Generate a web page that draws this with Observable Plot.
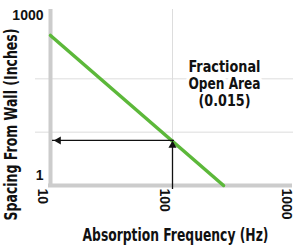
<!DOCTYPE html>
<html><head><meta charset="utf-8">
<script src="https://cdn.jsdelivr.net/npm/d3@7"></script>
<script src="https://cdn.jsdelivr.net/npm/@observablehq/plot@0.6"></script>
<style>body{margin:0;background:#fff;}</style>
</head><body><div id="chart"></div>
<script>
// Data
const freq = [10, 262];          // Absorption frequency (Hz)
const spacing = [650, 1];        // Spacing from wall (inches)
const xTicks = [10, 100, 1000];
const yTicks = [1, 1000];
const yGrid = [10, 100];
const xGrid = [100];
const markFreq = [100];
const markSpacing = [7];
const noteLines = ["Fractional", "Open Area", "(0.015)"];
const xTitle = "Absorption Frequency (Hz)";
const yTitle = "Spacing From Wall (Inches)";

const line = freq.map((f, i) => ({f, s: spacing[i]}));
const narrow = "'Liberation Sans Narrow', 'DejaVu Sans Condensed', 'Liberation Sans', sans-serif";
const wide = "'Liberation Sans', Arial, sans-serif";
const noteStyle = {frameAnchor: "top-right", textAnchor: "middle", lineAnchor: "middle", fontSize: 16,
  fontWeight: "bold", fontFamily: narrow, dx: -69};
const noteDy = [57, 74, 91];
const halo = noteLines.map((t, i) => Plot.text([t], {text: d => d, ...noteStyle, dy: noteDy[i], fill: "#fff", stroke: "#fff", strokeWidth: 8}));
const note = noteLines.map((t, i) => Plot.text([t], {text: d => d, ...noteStyle, dy: noteDy[i], fill: "#111"}));

const chart = Plot.plot({
  width: 295, height: 246,
  marginLeft: 35, marginRight: 2, marginTop: 9, marginBottom: 61,
  style: {background: "#fff"},
  x: {type: "log", domain: [10, 1000], range: [50, 294], axis: null},
  y: {type: "log", domain: [1, 1000], range: [185, 25], axis: null},
  marks: [
    Plot.ruleY(yGrid, {stroke: "#ddd", strokeWidth: 1}),
    Plot.ruleX(xGrid, {stroke: "#ddd", strokeWidth: 1}),
    ...halo,
    ...note,
    Plot.ruleX([xTicks[0]], {stroke: "#ccc", strokeWidth: 4}),
    Plot.ruleY([yTicks[0]], {x1: xTicks[0], x2: xTicks[2], stroke: "#ccc", strokeWidth: 4, dx: -2}),
    Plot.line(line, {x: "f", y: "s", stroke: "#5cb83a", strokeWidth: 3.5}),
    Plot.ruleX(markFreq, {y1: yTicks[0], y2: markSpacing[0], stroke: "#111", strokeWidth: 1.3, dy: 4}),
    Plot.ruleY(markSpacing, {x1: markFreq[0], x2: xTicks[0], stroke: "#111", strokeWidth: 1.3, dx: 2}),
    Plot.dot(markFreq, {x: d => d, y: markSpacing[0], symbol: "triangle", r: 3, fill: "#111", stroke: "none", dy: 5}),
    Plot.dot(markSpacing, {x: xTicks[0], y: d => d, symbol: "triangle", r: 3, fill: "#111", stroke: "none", rotate: -90, dx: 8}),
    Plot.text(yTicks, {x: xTicks[0], y: d => d, text: d => String(d), textAnchor: "end", dx: -7, dy: -9.5,
      fontSize: 14, fontWeight: "bold", fontFamily: wide, fill: "#111"}),
    Plot.text(xTicks, {x: d => d, y: yTicks[0], text: d => String(d), textAnchor: "start", rotate: 90, dx: -8, dy: 3,
      fontSize: 14, fontWeight: "bold", fontFamily: wide, fill: "#111"}),
    Plot.text([xTitle], {text: d => d, frameAnchor: "bottom", lineAnchor: "middle", dx: 11, dy: 50, fontSize: 17, fontWeight: "bold", fontFamily: narrow, fill: "#111"}),
    Plot.text([yTitle], {text: d => d, frameAnchor: "left", rotate: -90, textAnchor: "start", dx: -24, dy: 123, fontSize: 17, fontWeight: "bold", fontFamily: narrow, fill: "#111"})
  ]
});
document.getElementById("chart").appendChild(chart);

// Condense the narrow-font texts to the widths seen in the reference
const widths = {"Fractional": 72, "Open Area": 72, "(0.015)": 52, [xTitle]: 186, [yTitle]: 192};
chart.querySelectorAll("text").forEach(t => {
  const w = widths[t.textContent];
  if (w) { t.setAttribute("textLength", w); t.setAttribute("lengthAdjust", "spacingAndGlyphs"); }
});
</script>
</body></html>
